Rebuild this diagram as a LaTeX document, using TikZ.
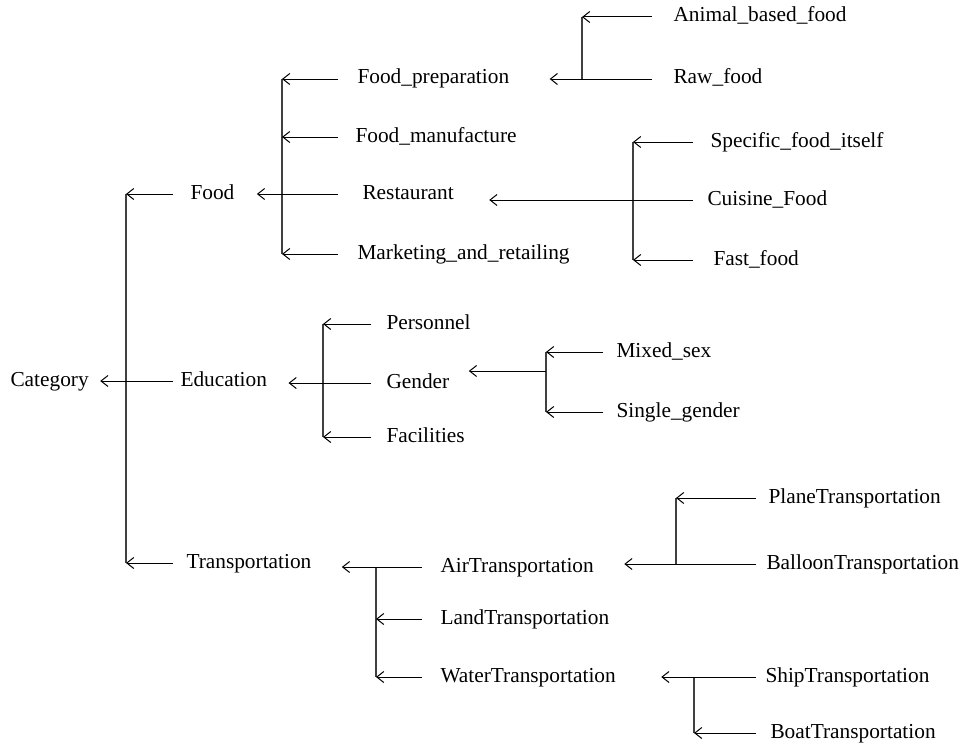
\documentclass[tikz,border=0pt]{standalone}
\usepackage{fontspec}
\setmainfont{Liberation Serif}
\usetikzlibrary{arrows.meta}

\tikzset{every picture/.style={line width=0.75pt}}
\tikzset{
  lbl/.style={anchor=west, inner sep=0pt, text height=11pt, text depth=3.5pt, font=\fontsize{16}{19}\selectfont},
  arr/.style={-{Straight Barb[length=5.25pt,width=8.25pt]}, line width=0.75pt},
  bar/.style={color={rgb, 255:red, 64; green, 64; blue, 64}, line width=1.1pt},
}

\begin{document}
\begin{tikzpicture}[x=0.75pt,y=0.75pt,yscale=-1,xscale=1]
\useasboundingbox (0,0) rectangle (962,742);

%Columns of the bars and of the line tails
\coordinate (barCat) at (126,0);   \coordinate (tailCat) at (173,0);
\coordinate (barFood) at (282,0);  \coordinate (tailFood) at (338,0);
\coordinate (barPrep) at (582,0);  \coordinate (tailPrep) at (652,0);
\coordinate (barRest) at (633,0);  \coordinate (tailRest) at (693,0);
\coordinate (barEdu) at (323,0);   \coordinate (tailEdu) at (371,0);
\coordinate (barGend) at (546,0);  \coordinate (tailGend) at (603,0);
\coordinate (barTrans) at (376,0); \coordinate (tailTrans) at (422,0);
\coordinate (barAir) at (676,0);   \coordinate (tailAir) at (756,0);
\coordinate (barWater) at (694,0); \coordinate (tailWater) at (756,0);
\coordinate (gendMid) at (546,371);

% Text Node
\node[lbl] (cat) at (10,381) {Category};
% Text Node
\node[lbl] (food) at (190,194) {Food};
\node[lbl] (edu) at (180,381) {Education};
\node[lbl] (trans) at (186,563) {Transportation};
% Text Node
\node[lbl] (fprep) at (357,79) {Food\_preparation};
\node[lbl] (fmanu) at (355,137) {Food\_manufacture};
\node[lbl] (rest) at (362,194) {Restaurant};
\node[lbl] (mark) at (357,254) {Marketing\_and\_retailing};
% Text Node
\node[lbl] (animal) at (673,17) {Animal\_based\_food};
\node[lbl] (raw) at (673,79) {Raw\_food};
% Text Node
\node[lbl] (spec) at (710,142) {Specific\_food\_itself};
\node[lbl] (cuis) at (707,200) {Cuisine\_Food};
\node[lbl] (fast) at (713,260) {Fast\_food};
% Text Node
\node[lbl] (pers) at (386,324) {Personnel};
\node[lbl] (gend) at (386,383) {Gender};
\node[lbl] (faci) at (386,437) {Facilities};
% Text Node
\node[lbl] (mixed) at (616,352) {Mixed\_sex};
\node[lbl] (single) at (616,412) {Single\_gender};
% Text Node
\node[lbl] (air) at (440,567) {AirTransportation};
\node[lbl] (land) at (440,619) {LandTransportation};
\node[lbl] (water) at (440,677) {WaterTransportation};
% Text Node
\node[lbl] (plane) at (768,498) {PlaneTransportation};
\node[lbl] (balloon) at (766,564) {BalloonTransportation};
% Text Node
\node[lbl] (ship) at (765,677) {ShipTransportation};
\node[lbl] (boat) at (770,733) {BoatTransportation};

%Straight Lines: Category
\draw[bar] (food.west -| barCat) -- (trans.west -| barCat);
\draw[arr] (food.west -| tailCat) -- (food.west -| barCat);
\draw[arr] (trans.west -| tailCat) -- (trans.west -| barCat);
\draw[arr, shorten >=8.25pt] (edu.west -| tailCat) -- (cat.east |- edu.west);

%Straight Lines: Food
\draw[bar] (fprep.west -| barFood) -- (mark.west -| barFood);
\draw[arr] (fprep.west -| tailFood) -- (fprep.west -| barFood);
\draw[arr] (fmanu.west -| tailFood) -- (fmanu.west -| barFood);
\draw[arr] (mark.west -| tailFood) -- (mark.west -| barFood);
\draw[arr, shorten >=16.5pt] (rest.west -| tailFood) -- (food.east |- rest.west);

%Straight Lines: Food_preparation
\draw[bar] (animal.west -| barPrep) -- (raw.west -| barPrep);
\draw[arr] (animal.west -| tailPrep) -- (animal.west -| barPrep);
\draw[arr, shorten >=30pt] (raw.west -| tailPrep) -- (fprep.east |- raw.west);

%Straight Lines: Restaurant
\draw[bar] (spec.west -| barRest) -- (fast.west -| barRest);
\draw[arr] (spec.west -| tailRest) -- (spec.west -| barRest);
\draw[arr] (fast.west -| tailRest) -- (fast.west -| barRest);
\draw[arr, shorten >=26.25pt] (cuis.west -| tailRest) -- (rest.east |- cuis.west);

%Straight Lines: Education
\draw[bar] (pers.west -| barEdu) -- (faci.west -| barEdu);
\draw[arr] (pers.west -| tailEdu) -- (pers.west -| barEdu);
\draw[arr] (faci.west -| tailEdu) -- (faci.west -| barEdu);
\draw[arr, shorten >=15.75pt] (gend.west -| tailEdu) -- (edu.east |- gend.west);

%Straight Lines: Gender
\draw[bar] (mixed.west -| barGend) -- (single.west -| barGend);
\draw[arr] (mixed.west -| tailGend) -- (mixed.west -| barGend);
\draw[arr] (single.west -| tailGend) -- (single.west -| barGend);
\draw[arr, shorten >=14.25pt] (gendMid) -- (gend.east |- gendMid);

%Straight Lines: Transportation
\draw[bar] (air.west -| barTrans) -- (water.west -| barTrans);
\draw[arr] (land.west -| tailTrans) -- (land.west -| barTrans);
\draw[arr] (water.west -| tailTrans) -- (water.west -| barTrans);
\draw[arr, shorten >=22.5pt] (air.west -| tailTrans) -- (trans.east |- air.west);

%Straight Lines: AirTransportation
\draw[bar] (plane.west -| barAir) -- (balloon.west -| barAir);
\draw[arr] (plane.west -| tailAir) -- (plane.west -| barAir);
\draw[arr, shorten >=22.5pt] (balloon.west -| tailAir) -- (air.east |- balloon.west);

%Straight Lines: WaterTransportation
\draw[bar] (ship.west -| barWater) -- (boat.west -| barWater);
\draw[arr] (boat.west -| tailWater) -- (boat.west -| barWater);
\draw[arr, shorten >=33.75pt] (ship.west -| tailWater) -- (water.east |- ship.west);
\end{tikzpicture}
\end{document}
